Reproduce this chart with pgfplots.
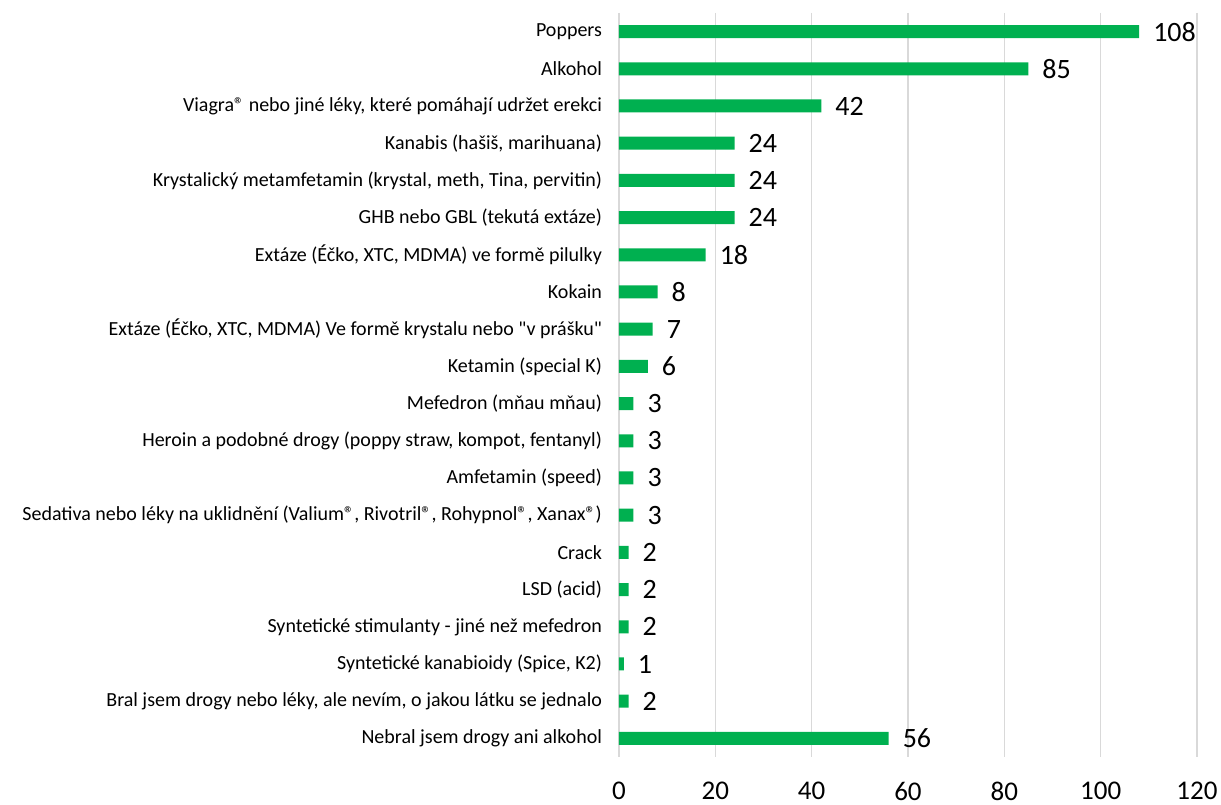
\documentclass[border=0pt]{standalone}
\usepackage{pgfplots}
\pgfplotsset{compat=1.18}
\usepackage{fontspec}
\setmainfont{Carlito}[Ligatures=TeXOff]
\definecolor{barg}{HTML}{00B050}
\definecolor{gridg}{HTML}{D9D9D9}

\begin{document}
\begin{tikzpicture}
\begin{axis}[
  name=ax,
  xbar, bar width=6.5pt,
  width=289pt, height=372pt, scale only axis,
  xmin=0, xmax=120, xtick={0,20,...,120},
  ymin=-0.5, ymax=19.5, y dir=reverse,
  ytick={0,...,19},
  yticklabels={
    {Poppers\ },
    {Alkohol},
    {Viagra® nebo jiné léky, které pomáhají udržet erekci},
    {Kanabis (hašiš, marihuana)},
    {Krystalický metamfetamin (krystal, meth, Tina, pervitin)},
    {GHB nebo GBL (tekutá extáze)},
    {Extáze (Éčko, XTC, MDMA) ve formě pilulky},
    {Kokain},
    {Extáze (Éčko, XTC, MDMA) Ve formě krystalu nebo "v prášku"},
    {Ketamin (special K)},
    {Mefedron (mňau mňau)},
    {Heroin a podobné drogy (poppy straw, kompot, fentanyl)},
    {Amfetamin (speed)},
    {Sedativa nebo léky na uklidnění (Valium®, Rivotril®, Rohypnol®, Xanax®)},
    {Crack\ },
    {LSD (acid)},
    {Syntetické stimulanty - jiné než mefedron\ },
    {Syntetické kanabioidy (Spice, K2)},
    {Bral jsem drogy nebo léky, ale nevím, o jakou látku se jednalo},
    {Nebral jsem drogy ani alkohol}
  },
  axis line style={draw=none},
  major tick length=0pt,
  xmajorgrids, major grid style={gridg, line width=0.75pt},
  /pgf/number format/assume math mode=true,
  xticklabel style={font=\fontsize{13.5}{15}\selectfont, yshift=-9pt},
  yticklabel style={font=\fontsize{10}{12}\selectfont, xshift=-5pt},
  nodes near coords,
  every node near coord/.append style={font=\fontsize{14}{16}\selectfont, text=black, xshift=3.5pt},
]
\addplot[draw=none, fill=barg] coordinates {
  (108,0) (85,1) (42,2) (24,3) (24,4) (24,5) (18,6) (8,7) (7,8) (6,9)
  (3,10) (3,11) (3,12) (3,13) (2,14) (2,15) (2,16) (1,17) (2,18) (56,19)
};
\end{axis}
\pgfresetboundingbox
\path (ax.south west) ++(-309.5pt,-24pt) coordinate (bl);
\path (ax.north east) ++(12pt,6.5pt) coordinate (tr);
\path[use as bounding box] (bl) rectangle (tr);
\end{tikzpicture}
\end{document}
